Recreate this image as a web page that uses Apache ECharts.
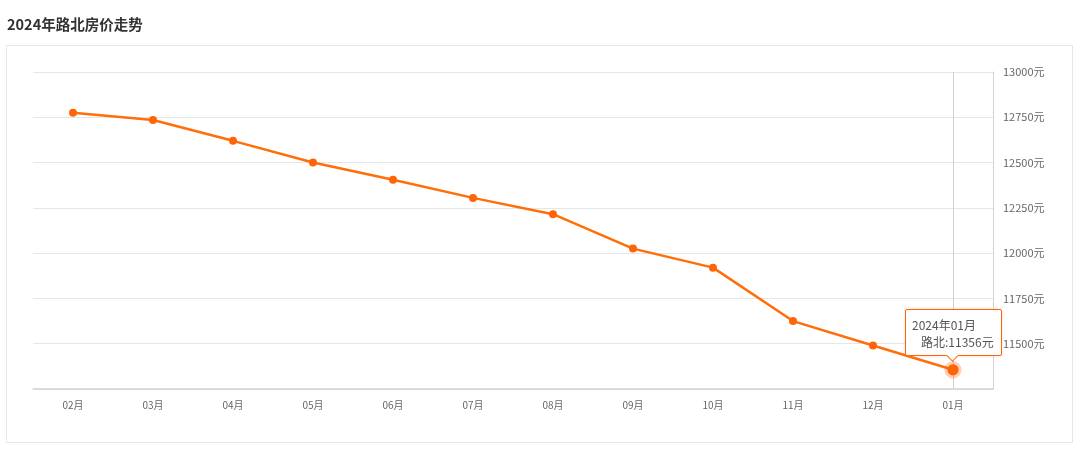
<!DOCTYPE html>
<html>
<head>
<meta charset="utf-8">
<script src="https://cdn.jsdelivr.net/npm/echarts@6/dist/echarts.min.js"></script>
<style>
html,body{margin:0;padding:0;background:#fff;}
#c{width:1080px;height:449px;}
</style>
</head>
<body>
<div id="c"></div>
<script>
var titleText = '2024年路北房价走势';
var seriesName = '路北';
var categories = ['02月','03月','04月','05月','06月','07月','08月','09月','10月','11月','12月','01月'];
var tooltipDates = ['2024年02月','2024年03月','2024年04月','2024年05月','2024年06月','2024年07月','2024年08月','2024年09月','2024年10月','2024年11月','2024年12月','2024年01月'];
var prices = [12775, 12735, 12620, 12500, 12405, 12305, 12215, 12025, 11920, 11625, 11490, 11356];
var yMin = 11250, yMax = 13000, yStep = 250;
var unit = '元';

var FONT = '"Noto Sans CJK SC", "Noto Sans", sans-serif';
var ORANGE = '#ff6408';
var chart = echarts.init(document.getElementById('c'), null, {renderer:'canvas'});
var option = {
  animation: false,
  title: {
    text: titleText, left: 2, top: 12,
    textStyle: {fontFamily: FONT, fontSize: 14.5, fontWeight: 'bold', color: '#333'}
  },
  graphic: [{
    type: 'rect', silent: true,
    shape: {x: 6.5, y: 45.5, width: 1066, height: 397},
    style: {fill: 'none', stroke: '#e6e6e6', lineWidth: 1}
  }],
  grid: {left: 33, right: 87, top: 72, bottom: 60, containLabel: false},
  tooltip: {
    trigger: 'axis',
    show: true,
    alwaysShowContent: true,
    backgroundColor: 'transparent',
    borderWidth: 0,
    padding: 0,
    extraCssText: 'box-shadow:none;border:none;overflow:visible;',
    textStyle: {fontFamily: FONT, fontSize: 12, color: '#555'},
    axisPointer: {type: 'line', z: 1, lineStyle: {color: '#d0d0d0', width: 1, type: 'solid'}, label: {show: false}},
    formatter: function (params) {
      var p = params[0];
      return '<div style="position:relative;line-height:17px;background:#fff;border:1px solid ' + ORANGE + ';border-radius:2px;padding:6px 7px 5px 6px;box-shadow:0 0 3px rgba(255,100,8,0.25);">' +
        '<div>' + tooltipDates[p.dataIndex] + '</div>' +
        '<div style="padding-left:9px;">' + seriesName + ':' + p.value + unit + '</div>' +
        '<div style="position:absolute;left:50%;bottom:-5px;width:8px;height:8px;margin-left:-5px;background:#fff;border-right:1px solid ' + ORANGE + ';border-bottom:1px solid ' + ORANGE + ';transform:rotate(45deg);"></div>' +
        '</div>';
    },
    position: function (point, params, dom, rect, size) {
      var idx = params[0].dataIndex;
      var px = chart.convertToPixel({seriesIndex: 0}, [idx, prices[idx]]);
      return [px[0] - size.contentSize[0] / 2, px[1] - size.contentSize[1] - 14];
    }
  },
  xAxis: {
    type: 'category',
    data: categories,
    boundaryGap: true,
    axisLine: {lineStyle: {color: '#d4d4d4', width: 1.5}},
    axisTick: {alignWithLabel: true, length: 4, lineStyle: {color: '#d4d4d4'}},
    axisLabel: {fontFamily: FONT, fontSize: 10, color: '#666', margin: 11},
    splitLine: {show: false}
  },
  yAxis: {
    type: 'value',
    position: 'right',
    min: yMin, max: yMax, interval: yStep,
    axisLine: {show: true, lineStyle: {color: '#d4d4d4'}},
    axisTick: {show: false},
    axisLabel: {
      fontFamily: FONT, fontSize: 11, color: '#666', margin: 10,
      showMinLabel: false,
      formatter: function (v) { return v + unit; }
    },
    splitLine: {lineStyle: {color: '#e6e6e6'}}
  },
  series: [{
    name: seriesName,
    type: 'line',
    z: 5,
    data: prices,
    symbol: 'circle',
    symbolSize: 8,
    showAllSymbol: true,
    lineStyle: {color: ORANGE, width: 2.5},
    itemStyle: {color: ORANGE},
    emphasis: {
      scale: 1.4,
      itemStyle: {color: ORANGE, borderColor: 'rgba(255,100,8,0.3)', borderWidth: 6}
    }
  }]
};
chart.setOption(option);
chart.dispatchAction({type: 'showTip', seriesIndex: 0, dataIndex: prices.length - 1});
</script>
</body>
</html>
